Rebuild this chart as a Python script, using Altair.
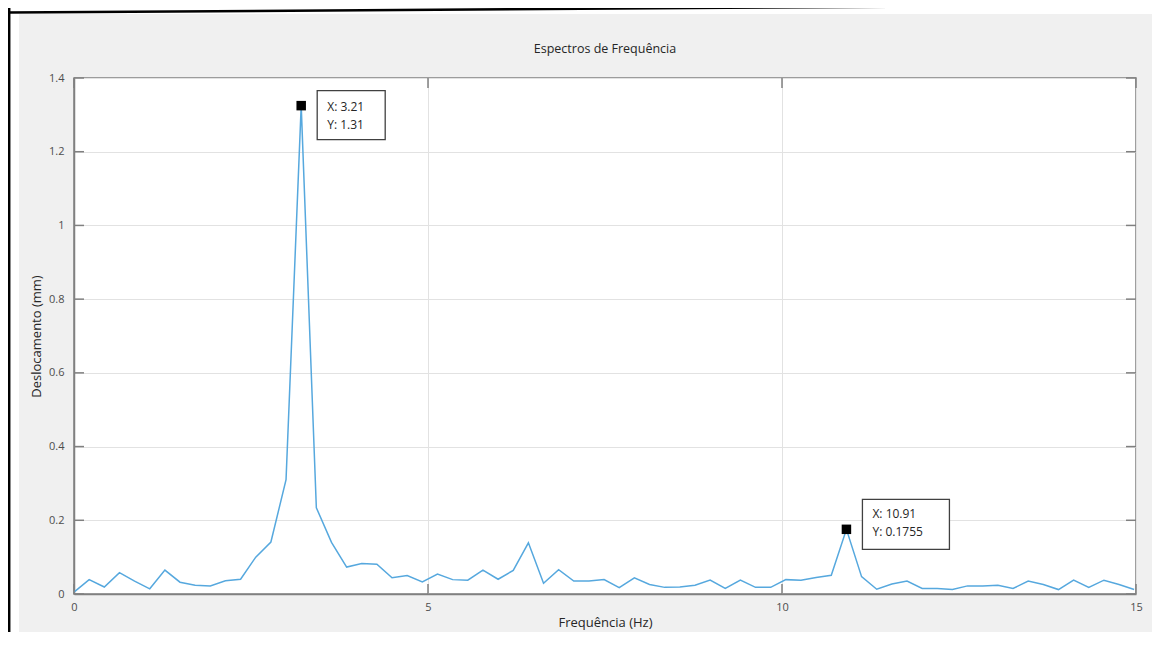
import altair as alt
import pandas as pd

# ---------------- data ----------------
freq = [0.000, 0.214, 0.428, 0.642, 0.856, 1.070, 1.284, 1.497, 1.711, 1.925,
        2.139, 2.353, 2.567, 2.781, 2.995, 3.209, 3.423, 3.637, 3.851, 4.064,
        4.278, 4.492, 4.706, 4.920, 5.134, 5.348, 5.562, 5.776, 5.990, 6.204,
        6.418, 6.632, 6.845, 7.059, 7.273, 7.487, 7.701, 7.915, 8.129, 8.343,
        8.557, 8.771, 8.985, 9.199, 9.412, 9.626, 9.840, 10.054, 10.268, 10.482,
        10.696, 10.910, 11.124, 11.338, 11.552, 11.766, 11.980, 12.193, 12.407, 12.621,
        12.835, 13.049, 13.263, 13.477, 13.691, 13.905, 14.119, 14.333, 14.547, 14.760,
        14.974]
disp = [0.005, 0.039, 0.019, 0.058, 0.035, 0.014, 0.065, 0.032, 0.024, 0.022,
        0.036, 0.040, 0.100, 0.141, 0.310, 1.325, 0.234, 0.140, 0.073, 0.083,
        0.081, 0.044, 0.050, 0.033, 0.054, 0.039, 0.0375, 0.065, 0.040, 0.064,
        0.139, 0.029, 0.066, 0.035, 0.035, 0.039, 0.017, 0.044, 0.026, 0.018,
        0.019, 0.024, 0.038, 0.015, 0.0375, 0.018, 0.018, 0.039, 0.0375, 0.045,
        0.051, 0.1755, 0.047, 0.013, 0.027, 0.035, 0.015, 0.015, 0.012, 0.022,
        0.022, 0.024, 0.015, 0.035, 0.026, 0.012, 0.0375, 0.018, 0.0375, 0.026,
        0.012]
x_ticks = [0, 5, 10, 15]
y_ticks = [0, 0.2, 0.4, 0.6, 0.8, 1.0, 1.2, 1.4]
tip_index = [15, 51]
tip_x_label = ["X: 3.21", "X: 10.91"]
tip_y_label = ["Y: 1.31", "Y: 0.1755"]
chart_title = "Espectros de Frequência"
x_title = "Frequência (Hz)"
y_title = "Deslocamento (mm)"

# ---------------- styling ----------------
W, H = 1062, 516
PAD = {"left": 66, "top": 70, "right": 23, "bottom": 38}
FONT = "Open Sans"
AXIS_COLOR = "#808080"
LINE_COLOR = "#56A8DE"
FIG_BG = "#F0F0F0"
TXT = "#262626"
# datatip box / text offsets (pixels, relative to the marker)
tip_style = [
    {"x0": 16, "x1": 84, "y0": -15, "y1": 34, "tx": 26, "ty1": 1, "ty2": 19},
    {"x0": 16, "x1": 103, "y0": -30, "y1": 20, "tx": 26, "ty1": -15, "ty2": 3},
]

df = pd.DataFrame({"f": freq, "d": disp})
tips = pd.DataFrame({
    "f": [freq[i] for i in tip_index],
    "d": [disp[i] for i in tip_index],
    "lx": tip_x_label,
    "ly": tip_y_label,
    "id": list(range(len(tip_index))),
})
xt = pd.DataFrame({"f": x_ticks})
yt = pd.DataFrame({"d": y_ticks})
one = pd.DataFrame({"k": [0]})

xs = alt.Scale(domain=[0, 15], nice=False, zero=False)
ys = alt.Scale(domain=[0, 1.4], nice=False, zero=False)

x_axis = alt.Axis(values=x_ticks, grid=True, gridColor="#e2e2e2", gridWidth=1,
                  ticks=False, domainColor=AXIS_COLOR, domainWidth=1.5,
                  labelFont=FONT, labelFontSize=11, labelColor="#4d4d4d",
                  labelPadding=7, labelFlush=False,
                  titleFont=FONT, titleFontSize=13, titleFontWeight="normal",
                  titleColor=TXT, titlePadding=4)
y_axis = alt.Axis(values=y_ticks, format="~g", grid=True, gridColor="#e2e2e2",
                  gridWidth=1, ticks=False, domainColor=AXIS_COLOR, domainWidth=1.5,
                  labelFont=FONT, labelFontSize=11, labelColor="#4d4d4d",
                  labelPadding=10, labelFlush=False,
                  titleFont=FONT, titleFontSize=13, titleFontWeight="normal",
                  titleColor=TXT, titlePadding=5)

X = alt.X("f:Q", scale=xs, axis=x_axis, title=x_title)
Y = alt.Y("d:Q", scale=ys, axis=y_axis, title=y_title)

# figure frame pieces (outside the plot area)
strip_left = alt.Chart(one).mark_rect(color="white", clip=False).encode(
    x=alt.value(-PAD["left"]), x2=alt.value(-55),
    y=alt.value(-PAD["top"]), y2=alt.value(H + PAD["bottom"]))
strip_top = alt.Chart(one).mark_rect(color="white", clip=False).encode(
    x=alt.value(-PAD["left"]), x2=alt.value(W + PAD["right"]),
    y=alt.value(-PAD["top"]), y2=alt.value(-64))
strip_right = alt.Chart(one).mark_rect(color="white", clip=False).encode(
    x=alt.value(1078), x2=alt.value(W + PAD["right"]),
    y=alt.value(-PAD["top"]), y2=alt.value(H + PAD["bottom"]))
border_left = alt.Chart(one).mark_rule(color="black", strokeWidth=2.5, clip=False).encode(
    x=alt.value(-PAD["left"] + 1.2),
    y=alt.value(-PAD["top"]), y2=alt.value(H + PAD["bottom"]))
border_top = alt.Chart(one).mark_rule(color="black", strokeWidth=2.5, clip=False).encode(
    x=alt.value(-PAD["left"]), x2=alt.value(W + PAD["right"]),
    y=alt.value(-65.5), y2=alt.value(-73))
title_mark = alt.Chart(one).mark_text(
    text=chart_title, font=FONT, fontSize=12.5, color=TXT, align="center",
    baseline="middle", clip=False).encode(x=alt.value(W / 2), y=alt.value(-29))

line = alt.Chart(df).mark_line(color=LINE_COLOR, strokeWidth=1.5).encode(x=X, y=Y)

tick_kw = dict(color=AXIS_COLOR, strokeWidth=1.5)
tb = alt.Chart(xt).mark_rule(**tick_kw).encode(x=X, y=alt.value(H), y2=alt.value(H - 10))
tt = alt.Chart(xt).mark_rule(**tick_kw).encode(x=X, y=alt.value(0), y2=alt.value(10))
tl = alt.Chart(yt).mark_rule(**tick_kw).encode(y=Y, x=alt.value(0), x2=alt.value(10))
tr = alt.Chart(yt).mark_rule(**tick_kw).encode(y=Y, x=alt.value(W), x2=alt.value(W - 10))

layers = [strip_left, strip_top, strip_right, border_left, border_top, title_mark,
          line, tb, tt, tl, tr]

for i, st in enumerate(tip_style):
    base = alt.Chart(tips).transform_filter(alt.datum.id == i)
    box = base.mark_rect(fill="white", stroke="#404040", strokeWidth=1.3,
                         xOffset=st["x0"], x2Offset=st["x1"],
                         yOffset=st["y0"], y2Offset=st["y1"], clip=False).encode(
        x=X, x2="f:Q", y=Y, y2="d:Q")
    t1 = base.mark_text(align="left", baseline="middle", dx=st["tx"], dy=st["ty1"],
                        font=FONT, fontSize=12, color=TXT).encode(x=X, y=Y, text="lx:N")
    t2 = base.mark_text(align="left", baseline="middle", dx=st["tx"], dy=st["ty2"],
                        font=FONT, fontSize=12, color=TXT).encode(x=X, y=Y, text="ly:N")
    layers += [box, t1, t2]

markers = alt.Chart(tips).mark_square(size=90, color="black", opacity=1,
                                      filled=True).encode(x=X, y=Y)
layers.append(markers)

chart = alt.layer(*layers).properties(
    width=W, height=H,
    padding=PAD,
    autosize=alt.AutoSizeParams(type="none"),
).configure(background=FIG_BG).configure_view(
    fill="white", stroke=AXIS_COLOR, strokeWidth=1.5)

chart.save("out.html", embed_options={"renderer": "svg", "actions": False})
